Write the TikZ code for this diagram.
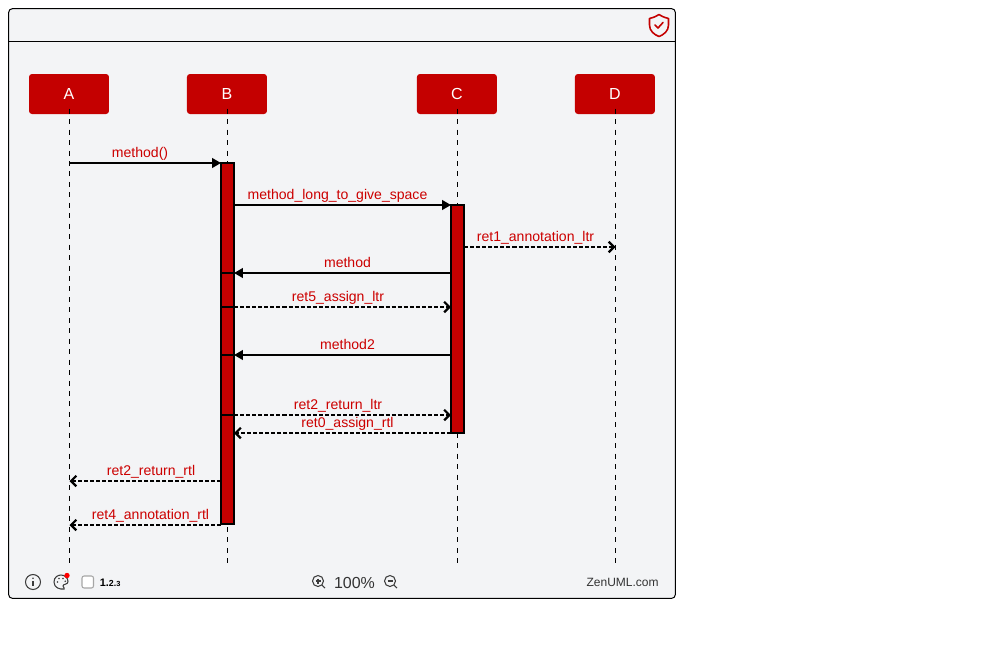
\documentclass[tikz,border=0pt]{standalone}
\usepackage{fontspec}
\setmainfont{Liberation Sans}
\usetikzlibrary{arrows.meta, positioning, calc}
\definecolor{zenred}{RGB}{196,0,0}
\definecolor{panelgray}{RGB}{243,244,246}
\definecolor{icongray}{RGB}{60,60,60}
\definecolor{labelred}{RGB}{204,0,0}
\tikzset{
  actor/.style={fill=zenred, text=white, rounded corners=1.7pt, minimum width=1.6cm, minimum height=0.8cm, inner sep=0pt, outer sep=0pt, font=\fontsize{9.1}{11}\selectfont},
  lifeline/.style={line width=0.57pt, dash pattern=on 2.85pt off 3.1pt},
  activation/.style={draw=black, fill=zenred, line width=1.14pt, minimum width=0.26cm, inner sep=0pt},
  syncmsg/.style={line width=1.14pt, -{Triangle[length=5pt,width=5.4pt]}},
  retmsg/.style={line width=1.14pt, dash pattern=on 2.3pt off 1.15pt, -{Straight Barb[length=3pt,width=6pt,line width=1.3pt]}},
  barline/.style={line width=1.14pt},
  msglabel/.style={text=labelred, font=\fontsize{8}{10}\selectfont, inner sep=0pt, anchor=base},
  icon/.style={draw=icongray, line width=0.6pt},
}
\begin{document}
\begin{tikzpicture}[x=0.02cm, y=-0.02cm]
\useasboundingbox (0,0) rectangle (1000,660);

% Frame
\node[draw=black, fill=panelgray, line width=0.57pt, rounded corners=2.3pt, minimum width=13.34cm, minimum height=11.8cm, inner sep=0pt] (frame) at (342,303.5) {};
\coordinate (headl) at (8.5,41);
\coordinate (headr) at (675.5,41);
\draw[line width=0.57pt] (headl) -- (headr);

% Participants
\node[actor] (actA) at (69,94) {A};
\node[actor, right=1.56cm of actA] (actB) {B};
\node[actor, right=3cm of actB] (actC) {C};
\node[actor, right=1.56cm of actC] (actD) {D};

% Lifelines
\coordinate (endA) at (69.5,565);
\coordinate (endB) at (227,565);
\coordinate (endC) at (457.5,565);
\coordinate (endD) at (615.5,565);
\draw[lifeline] (actA.south -| endA) ++(0,3pt) -- (endA);
\draw[lifeline] (actB.south -| endB) ++(0,3pt) -- (endB);
\draw[lifeline] (actC.south -| endC) ++(0,3pt) -- (endC);
\draw[lifeline] (actD.south -| endD) ++(0,3pt) -- (endD);

% Activation bars
\node[activation, minimum height=7.24cm] (barB) at (227.5,343.5) {};
\node[activation, minimum height=4.56cm] (barC) at (457.5,319) {};

% Message ends
\coordinate (m1a) at (69.5,163);
\coordinate (m1b) at (221,163);
\coordinate (m2b) at (234,205);
\coordinate (m2c) at (451,205);
\coordinate (m3c) at (464,247);
\coordinate (m3d) at (615.5,247);
\coordinate (m4c) at (451,273);
\coordinate (m4b) at (234,273);
\coordinate (m4s) at (221,273);
\coordinate (m5s) at (221,307);
\coordinate (m5b) at (234,307);
\coordinate (m5c) at (451,307);
\coordinate (m6c) at (451,355);
\coordinate (m6b) at (234,355);
\coordinate (m6s) at (221,355);
\coordinate (m7s) at (221,415);
\coordinate (m7b) at (234,415);
\coordinate (m7c) at (451,415);
\coordinate (m8c) at (451,433);
\coordinate (m8b) at (234,433);
\coordinate (m9b) at (221,481);
\coordinate (m9a) at (69.5,481);
\coordinate (m10b) at (221,525);
\coordinate (m10a) at (69.5,525);

% Messages
\draw[syncmsg] (m1a) -- (m1b);
\draw[syncmsg] (m2b) -- (m2c);
\draw[retmsg] (m3c) -- (m3d);
\draw[barline] (m4s) -- (m4b);
\draw[syncmsg] (m4c) -- (m4b);
\draw[barline] (m5s) -- (m5b);
\draw[retmsg] (m5b) -- (m5c);
\draw[barline] (m6s) -- (m6b);
\draw[syncmsg] (m6c) -- (m6b);
\draw[barline] (m7s) -- (m7b);
\draw[retmsg] (m7b) -- (m7c);
\draw[retmsg] (m8c) -- (m8b);
\draw[retmsg] (m9b) -- (m9a);
\draw[retmsg] (m10b) -- (m10a);

% Labels
\node[msglabel] (lab1) at (140,157) {method()};
\node[msglabel] (lab2) at (337.5,199) {method\_long\_to\_give\_space};
\node[msglabel] (lab3) at (535.5,241) {ret1\_annotation\_ltr};
\node[msglabel] (lab4) at (347.5,267) {method};
\node[msglabel] (lab5) at (338,301) {ret5\_assign\_ltr};
\node[msglabel] (lab6) at (347.5,349) {method2};
\node[msglabel] (lab7) at (338,409) {ret2\_return\_ltr};
\node[msglabel] (lab8) at (347.5,427) {ret0\_assign\_rtl};
\node[msglabel] (lab9) at (151,475) {ret2\_return\_rtl};
\node[msglabel] (lab10) at (150.5,519) {ret4\_annotation\_rtl};

% Shield
\draw[draw=zenred, line width=0.9pt, line join=round] (659,14.5) .. controls (655,17) and (652,18) .. (649.5,18.5) -- (649.5,25) .. controls (649.5,31) and (654,34.5) .. (659,36.5) .. controls (664,34.5) and (668.5,31) .. (668.5,25) -- (668.5,18.5) .. controls (666,18) and (663,17) .. (659,14.5) -- cycle;
\draw[draw=zenred, line width=0.9pt, line cap=round, line join=round] (655,25) -- (658,28) -- (663,22.5);

% Toolbar
\draw[icon] (33,582) circle (7.5);
\draw[icon, line width=0.8pt] (33,581) -- (33,586);
\fill[icongray] (33,578.3) circle (0.9);
\draw[icon] (64,589) .. controls (60,589.5) and (54,588) .. (54,582) .. controls (54,577) and (58,575) .. (61,575) .. controls (65,575) and (68,578) .. (68,581.5) .. controls (68,585) and (63,583.5) .. (63,586) .. controls (63,587.5) and (65.5,588.5) .. (64,589) -- cycle;
\fill[icongray] (57.5,582) circle (0.9) (59,578.5) circle (0.9) (63,578.5) circle (0.9) (65.2,581.2) circle (0.9);
\fill[red] (67,575.5) circle (2.7);
\draw[draw=gray!70, fill=white, line width=0.6pt, rounded corners=1.2pt] (82,576) rectangle (93.5,588);
\node[inner sep=0pt, anchor=base west, font=\fontsize{6.2}{7}\selectfont\bfseries] (vers) at (99.5,586) {1.\fontsize{5}{6}\selectfont 2.\fontsize{4.2}{5}\selectfont 3};
\draw[icon] (318,581) circle (5.5);
\draw[icon] (322,585) -- (325,588);
\draw[icon] (315.5,581) -- (320.5,581) (318,578.5) -- (318,583.5);
\node[inner sep=0pt, anchor=base, text=black!80, font=\fontsize{9.1}{11}\selectfont] (zoomval) at (354.5,588) {100\%};
\draw[icon] (390,581) circle (5.5);
\draw[icon] (394,585) -- (397,588);
\draw[icon] (387.5,581) -- (392.5,581);
\node[inner sep=0pt, anchor=base east, text=black!80, font=\fontsize{6.83}{8}\selectfont] (site) at (659,586) {ZenUML.com};
\end{tikzpicture}
\end{document}
